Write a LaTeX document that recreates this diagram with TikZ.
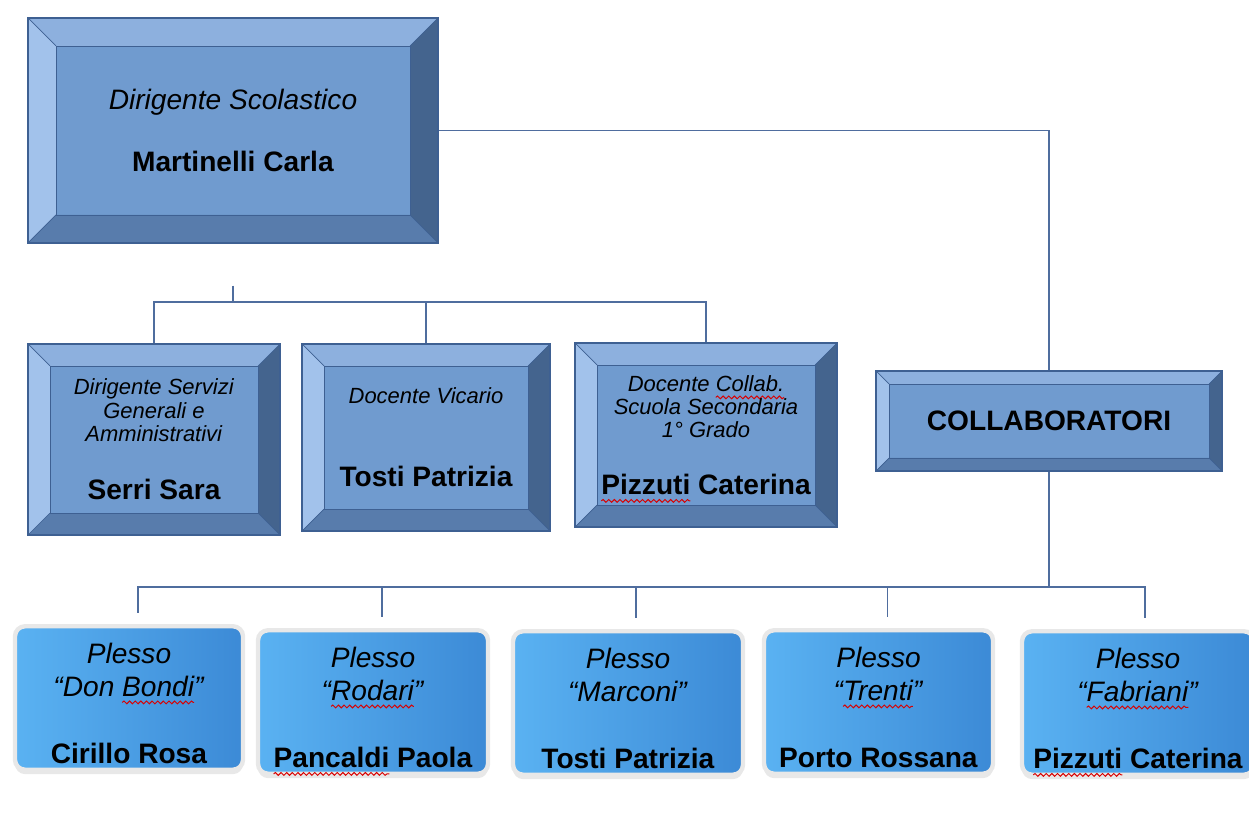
\documentclass[tikz,border=0pt]{standalone}
\usepackage{fontspec}
\setmainfont{Liberation Sans}
\usepackage{tikz}
\usetikzlibrary{shapes,arrows,shadows,decorations.pathmorphing}

\definecolor{faccia}{RGB}{112,155,207}
\definecolor{latoSu}{RGB}{141,176,222}
\definecolor{latoSx}{RGB}{162,194,235}
\definecolor{latoDx}{RGB}{68,100,142}
\definecolor{latoGiu}{RGB}{88,124,172}
\definecolor{bordo}{RGB}{62,96,146}
\definecolor{linea}{RGB}{79,109,158}
\definecolor{plessoA}{RGB}{90,178,242}
\definecolor{plessoB}{RGB}{60,138,214}

\newsavebox{\parolabox}
\newcommand{\errore}[1]{\sbox{\parolabox}{#1}\tikz[overlay, baseline=0pt]\draw[draw=red!85!black,
	line width=0.55pt, sharp corners, decorate, decoration={snake, amplitude=0.8pt,
	segment length=3.2pt}] (0,-3.6pt) -- (\the\wd\parolabox,-3.6pt);\usebox{\parolabox}}

\tikzset{cornice/.style={path picture={
	\coordinate (NW) at (path picture bounding box.north west);
	\coordinate (NE) at (path picture bounding box.north east);
	\coordinate (SW) at (path picture bounding box.south west);
	\coordinate (SE) at (path picture bounding box.south east);
	\fill[latoSu] (NW) -- (NE) -- ([shift={(-#1,-#1)}]NE) -- ([shift={(#1,-#1)}]NW) -- cycle;
	\fill[latoSx] (NW) -- (SW) -- ([shift={(#1,#1)}]SW) -- ([shift={(#1,-#1)}]NW) -- cycle;
	\fill[latoDx] (NE) -- (SE) -- ([shift={(-#1,#1)}]SE) -- ([shift={(-#1,-#1)}]NE) -- cycle;
	\fill[latoGiu] (SW) -- (SE) -- ([shift={(-#1,#1)}]SE) -- ([shift={(#1,#1)}]SW) -- cycle;
	\draw[bordo, line width=0.4pt] ([shift={(#1,-#1)}]NW) rectangle ([shift={(-#1,#1)}]SE);
	\draw[bordo, line width=0.4pt] (NW) -- ([shift={(#1,-#1)}]NW) (NE) -- ([shift={(-#1,-#1)}]NE)
		(SW) -- ([shift={(#1,#1)}]SW) (SE) -- ([shift={(-#1,#1)}]SE);
}}}

\begin{document}
\begin{tikzpicture}
	\tikzstyle{capo}=[rectangle, draw=bordo, line width=0.8pt, fill=faccia, align=center,
	font=\fontsize{16}{19}\selectfont]
	\tikzstyle{ufficio}=[rectangle, draw=bordo, line width=0.8pt, fill=faccia, cornice=0.44cm,
	align=center, font=\fontsize{12.5}{13.3}\selectfont]
	\tikzstyle{plesso}=[rectangle, rounded corners=0.2cm, draw=black!9, line width=2.5pt,
	left color=plessoA, right color=plessoB, align=center,
	font=\fontsize{16}{18.4}\selectfont,
	drop shadow={shadow xshift=0pt, shadow yshift=-2.5pt, opacity=0.18}]
	\tikzstyle{ramo}=[draw=linea, line width=0.85pt]

	\useasboundingbox (0,0) rectangle (24.98,-16.38);

	\node[capo, cornice=0.56cm, minimum width=8.2cm, minimum height=4.5cm] (dir) at (4.66,-2.61)
	{\textit{Dirigente Scolastico}\\[16pt]\textbf{Martinelli Carla}};

	\node[ufficio, minimum width=5.04cm, minimum height=3.82cm] (dsga) at (3.08,-8.79)
	{\textit{Dirigente Servizi}\\\textit{Generali e}\\\textit{Amministrativi}\\[20pt]
	{\fontsize{16}{19}\selectfont\bfseries Serri Sara}};
	\node[ufficio, minimum width=4.96cm, minimum height=3.74cm] (vic) at (8.52,-8.75)
	{\textit{Docente Vicario}\\[34pt]{\fontsize{16}{19}\selectfont\bfseries Tosti Patrizia}};
	\node[ufficio, minimum width=5.24cm, minimum height=3.68cm] (coll) at (14.12,-8.70)
	{\textit{Docente \errore{Collab.}}\\\textit{Scuola Secondaria}\\\textit{1° Grado}\\[19pt]
	{\fontsize{16}{19}\selectfont\bfseries \errore{Pizzuti} Caterina}};

	\node[capo, cornice=0.26cm, minimum width=6.92cm, minimum height=2cm] (collab) at (20.98,-8.42)
	{\textbf{COLLABORATORI}};

	\node[plesso, minimum width=4.56cm, minimum height=2.84cm] (p1) at (2.58,-13.96)
	{\textit{\rule{0pt}{18pt}Plesso}\\\textit{“Don \errore{Bondi}”}\\[20pt]\textbf{Cirillo Rosa}};
	\node[plesso, minimum width=4.6cm, minimum height=2.84cm] (p2) at (7.46,-14.04)
	{\textit{\rule{0pt}{18pt}Plesso}\\\textit{“\errore{Rodari}”}\\[20pt]\textbf{\errore{Pancaldi} Paola}};
	\node[plesso, minimum width=4.6cm, minimum height=2.84cm] (p3) at (12.56,-14.06)
	{\textit{\rule{0pt}{18pt}Plesso}\\\textit{“Marconi”}\\[20pt]\textbf{Tosti Patrizia}};
	\node[plesso, minimum width=4.58cm, minimum height=2.84cm] (p4) at (17.57,-14.04)
	{\textit{\rule{0pt}{18pt}Plesso}\\\textit{“\errore{Trenti}”}\\[20pt]\textbf{Porto Rossana}};
	\node[plesso, minimum width=4.64cm, minimum height=2.8cm] (p5) at (22.76,-14.06)
	{\textit{\rule{0pt}{18pt}Plesso}\\\textit{“\errore{Fabriani}”}\\[20pt]\textbf{\errore{Pizzuti} Caterina}};

	\coordinate (snodo) at (4.66,-6.04);
	\coordinate (pnodo) at (20.98,-11.74);

	\draw[ramo, shorten <=0.84cm] (dir.south) -- (snodo);
	\draw[ramo] (snodo) -| (dsga.north);
	\draw[ramo] (snodo) -| (vic.north);
	\draw[ramo] (snodo) -| (coll.north);
	\draw[ramo] (dir.east) -| (collab.north);
	\draw[ramo] (collab.south) -- (pnodo);
	\draw[ramo, shorten >=0.22cm] (pnodo) -| ([xshift=0.18cm]p1.north);
	\draw[ramo, shorten >=0.22cm] (pnodo) -| ([xshift=0.18cm]p2.north);
	\draw[ramo, shorten >=0.22cm] (pnodo) -| ([xshift=0.16cm]p3.north);
	\draw[ramo, shorten >=0.22cm] (pnodo) -| ([xshift=0.18cm]p4.north);
	\draw[ramo, shorten >=0.22cm] (pnodo) -| ([xshift=0.14cm]p5.north);
\end{tikzpicture}
\end{document}
